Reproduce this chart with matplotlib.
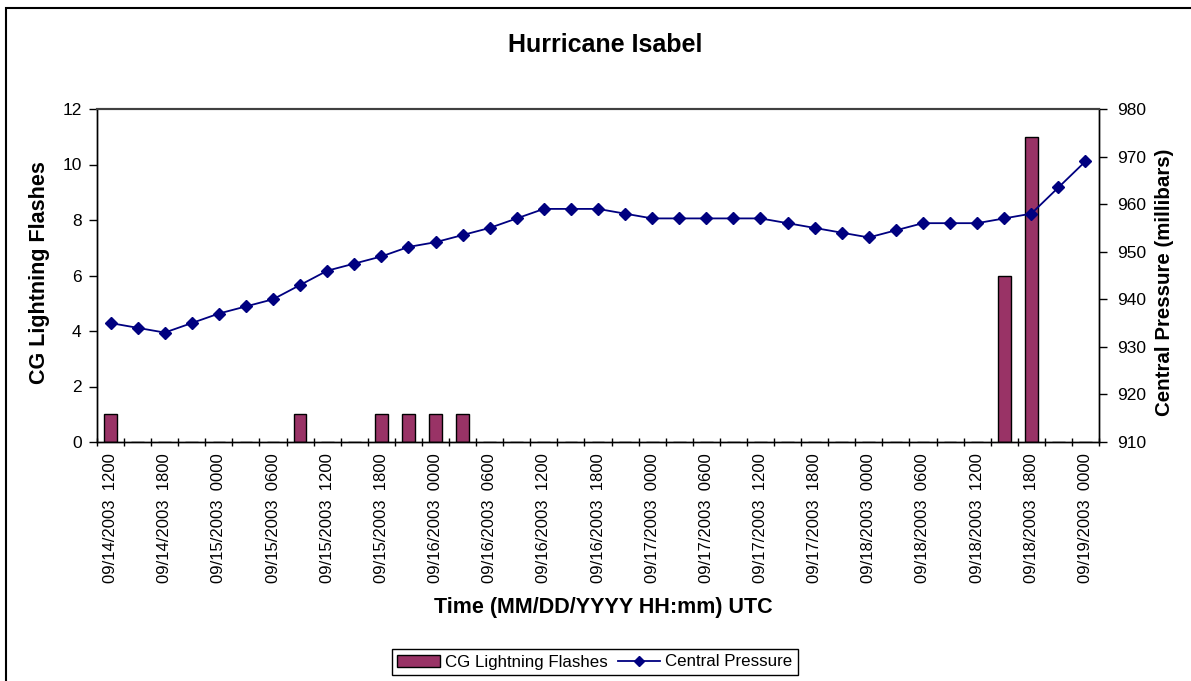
import numpy as np
import matplotlib
matplotlib.use("Agg")
import matplotlib.pyplot as plt
from matplotlib.patches import Rectangle, Patch
from matplotlib.lines import Line2D

plt.rcParams['font.family'] = ['Liberation Sans', 'DejaVu Sans']

# CG lightning flashes per 3-hour slot (09/14 1200 -> 09/19 0000)
flashes = [1, 0, 0, 0, 0, 0, 0, 1, 0, 0, 1, 1, 1, 1, 0, 0, 0, 0, 0,
           0, 0, 0, 0, 0, 0, 0, 0, 0, 0, 0, 0, 0, 0, 6, 11, 0, 0]
# central pressure (millibars)
pressure = [935, 934, 933, 935, 937, 938.5, 940, 943, 946, 947.5, 949, 951,
            952, 953.5, 955, 957, 959, 959, 959, 958, 957, 957, 957, 957,
            957, 956, 955, 954, 953, 954.5, 956, 956, 956, 957, 958, 963.5, 969]
# labels shown on every second slot
tick_labels = ["09/14/2003  1200", "09/14/2003  1800", "09/15/2003  0000",
               "09/15/2003  0600", "09/15/2003  1200", "09/15/2003  1800",
               "09/16/2003  0000", "09/16/2003  0600", "09/16/2003  1200",
               "09/16/2003  1800", "09/17/2003  0000", "09/17/2003  0600",
               "09/17/2003  1200", "09/17/2003  1800", "09/18/2003  0000",
               "09/18/2003  0600", "09/18/2003  1200", "09/18/2003  1800",
               "09/19/2003  0000"]

W, H = 1191, 681
fig = plt.figure(figsize=(W / 100, H / 100), dpi=100)
ax = fig.add_axes([97 / W, 1 - 442 / H, (1099 - 97) / W, (442 - 109) / H])

x = np.arange(len(flashes))
ax.bar(x, flashes, width=0.47, color='#993366', edgecolor='black', linewidth=1, zorder=2)
ax.set_xlim(-0.5, len(flashes) - 0.5)
ax.set_ylim(0, 12)
ax.set_yticks(range(0, 13, 2))

# labels on every other category, ticks between categories
ax.set_xticks(x[::2])
ax.set_xticklabels(tick_labels, rotation=90, fontsize=12)
ax.tick_params(axis='x', which='major', length=0, pad=8)
ax.set_xticks(np.arange(-0.5, len(flashes)), minor=True)
ax.tick_params(axis='x', which='minor', direction='inout', length=6, width=1, color='black')
ax.tick_params(axis='y', direction='out', length=6, labelsize=12.5, width=1, pad=5)

ax2 = ax.twinx()
ax2.plot(x, pressure, color='#000080', marker='D', markersize=6, linewidth=1.3, zorder=3)
ax2.set_ylim(910, 980)
ax2.set_yticks(range(910, 981, 10))
ax2.tick_params(axis='y', direction='out', length=6, labelsize=12.5, width=1, pad=7)

for a in (ax, ax2):
    a.spines['top'].set_color('#404040')
    a.spines['top'].set_linewidth(1.5)
    a.spines['left'].set_linewidth(1)
    a.spines['right'].set_linewidth(1)
    a.spines['bottom'].set_linewidth(1)

# titles and axis labels
fig.text(605 / W, 1 - 45 / H, "Hurricane Isabel", ha='center', va='center',
         fontsize=18, fontweight='bold')
fig.text(603 / W, 1 - 608 / H, "Time (MM/DD/YYYY HH:mm) UTC", ha='center', va='center',
         fontsize=15.5, fontweight='bold')
fig.text(40 / W, 1 - 273 / H, "CG Lightning Flashes", ha='center', va='center',
         rotation=90, fontsize=15.5, fontweight='bold')
fig.text(1164 / W, 1 - 282 / H, "Central Pressure (millibars)", ha='center', va='center',
         rotation=90, fontsize=14.8, fontweight='bold')

handles = [Patch(facecolor='#993366', edgecolor='black', linewidth=1),
           Line2D([], [], color='#000080', marker='D', markersize=5, linewidth=1.3)]
leg = fig.legend(handles, ["CG Lightning Flashes", "Central Pressure"], loc='center',
                 bbox_to_anchor=(595 / W, 1 - 662 / H), ncol=2, fontsize=12.2,
                 frameon=True, fancybox=False, edgecolor='black', framealpha=1,
                 handlelength=2.5, handletextpad=0.3, columnspacing=0.6,
                 borderpad=0.3)
leg.get_frame().set_linewidth(1)

# outer chart border (cropped at right and bottom)
fig.patches.append(Rectangle((6 / W, -0.2), 1.5, (1 - 8 / H) + 0.2, fill=False,
                             edgecolor='black', linewidth=1.5, transform=fig.transFigure))

fig.savefig("out.png", dpi=100)
